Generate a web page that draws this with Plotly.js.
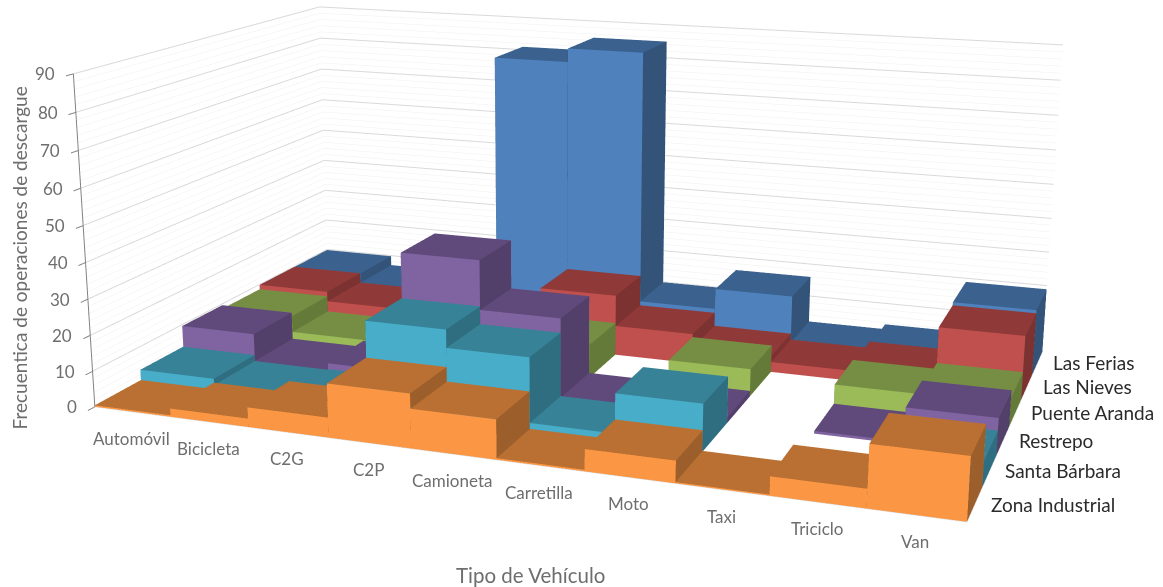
<!DOCTYPE html>
<html><head><meta charset="utf-8">
<script src="https://cdn.plot.ly/plotly-3.0.1.min.js"></script>
<style>html,body{margin:0;padding:0;background:#fff;overflow:hidden}#w{position:relative;width:1163px;height:587px;overflow:hidden}#c{position:absolute;left:-51px;top:-546px;width:1215px;height:1640px}</style>
</head><body><div id="w"><div id="c"></div></div>
<script>
const categories=['Automóvil','Bicicleta','C2G','C2P','Camioneta','Carretilla','Moto','Taxi','Triciclo','Van'];
const seriesNames=['Zona Industrial','Santa Bárbara','Restrepo','Puente Aranda','Las Nieves','Las Ferias'];
const zonaIndustrial=[0.4,2.3,5.4,14.6,10.6,0.4,5.8,0.3,4.9,16];
const santaBarbara=[3.4,1.6,1.8,24.8,19.8,2,12.8,0,0,6.6];
const restrepo=[9.6,1.6,3.5,37.7,23.8,1.5,1.6,0,0.7,9.9];
const puenteAranda=[8.5,3.7,3.7,5,9.6,0,7.8,0,6.1,7.8];
const lasNieves=[9.9,6.9,6.9,5,17.8,8.7,4.7,2.9,4.8,18];
const lasFerias=[9.8,6.8,5,80.9,84.9,9.9,16,2,3.5,18.9];
const zMajor=[0,10,20,30,40,50,60,70,80,90];
const zMinor=[2,4,6,8,12,14,16,18,22,24,26,28,32,34,36,38,42,44,46,48,52,54,56,58,62,64,66,68,72,74,76,78,82,84,86,88];
const seriesColors=[
 {front:'#FB9744',top:'#B97032',side:'#9C5E2B'},
 {front:'#47ADC9',top:'#378297',side:'#2F6E80'},
 {front:'#8064A2',top:'#604A7B',side:'#53406A'},
 {front:'#9BBB59',top:'#768E43',side:'#647A38'},
 {front:'#C0504D',top:'#8F3A38',side:'#7C3230'},
 {front:'#4F81BD',top:'#3B618E',side:'#345378'}];
const allSeries=[zonaIndustrial,santaBarbara,restrepo,puenteAranda,lasNieves,lasFerias];

// The 3D camera has a fixed field of view, so the plot is laid out larger than
// the visible window to get a long focal length, and offset inside a clipping box.
const W=1215,H=1640,left=-51,top_=-546;
const eye=[0.7517,-2.145,0.5536],center=[-0.0418,0,-0.0678],upv=[0.0005,0,1],aspect=[1,0.5965,0.3878];
const toX=x=>(x-left)/W,toY=y=>1-(y-top_)/H;

// One mesh per series: each column is a cuboid whose faces carry their own flat colour.
function cuboidTrace(values,colors,name){
 const x=[],y=[],z=[],i=[],j=[],k=[],fc=[];
 const row=seriesNames.indexOf(name);
 values.forEach((v,c)=>{
  if(!v)return;
  const n=x.length;
  for(const [a,b,d] of [[0,0,0],[1,0,0],[1,1,0],[0,1,0],[0,0,1],[1,0,1],[1,1,1],[0,1,1]]){x.push(c+a);y.push(row+b);z.push(d*v)}
  const quad=(a,b,d,e,col)=>{i.push(n+a,n+a);j.push(n+b,n+d);k.push(n+d,n+e);fc.push(col,col)};
  quad(0,1,5,4,colors.front);quad(1,2,6,5,colors.side);quad(4,5,6,7,colors.top);
  quad(3,2,6,7,colors.front);quad(0,3,7,4,colors.side);quad(0,1,2,3,colors.front);
 });
 return {type:'mesh3d',x,y,z,i,j,k,facecolor:fc,flatshading:true,name,hoverinfo:'skip',showscale:false,
  lighting:{ambient:1,diffuse:0,specular:0,roughness:1,fresnel:0},lightposition:{x:0,y:0,z:1000}};
}
// Horizontal rules running along the left and back walls.
function wallLines(levels,color,width){
 const x=[],y=[],z=[];
 levels.forEach(v=>{x.push(0,0,10,null);y.push(0,6,6,null);z.push(v,v,v,null)});
 return {type:'scatter3d',mode:'lines',x,y,z,line:{color,width},hoverinfo:'skip',showlegend:false};
}
const floorEdge={type:'scatter3d',mode:'lines',hoverinfo:'skip',showlegend:false,line:{color:'#D9D9D9',width:2},x:[0,10,10],y:[0,0,6],z:[0,0,0]};
const axisOff={showgrid:false,zeroline:false,showticklabels:false,showbackground:false,showspikes:false,showline:false,ticks:'',title:{text:''},autorange:false};
const gray='#6E6E6E';
const sceneAnn=[
 ...categories.map((t,c)=>({x:c+.5,y:0,z:0,text:t,showarrow:false,xshift:-1,yshift:-26.5,font:{family:'Lato',size:17,color:gray}})),
 ...seriesNames.map((t,s)=>({x:10,y:s+.5,z:0,text:t,showarrow:false,xanchor:'left',xshift:14,yshift:0,font:{family:'Lato',size:19,color:'#2B2B2B'}})),
 ...zMajor.map(v=>({x:0,y:0,z:v,text:String(v),showarrow:false,xanchor:'right',xshift:-16,font:{family:'Lato',size:17,color:gray}}))
];
const layout={width:W,height:H,margin:{l:0,r:0,t:0,b:0},paper_bgcolor:'#fff',showlegend:false,
 scene:{domain:{x:[0,1],y:[0,1]},aspectmode:'manual',aspectratio:{x:aspect[0],y:aspect[1],z:aspect[2]},
  camera:{eye:{x:eye[0],y:eye[1],z:eye[2]},center:{x:center[0],y:center[1],z:center[2]},up:{x:upv[0],y:upv[1],z:upv[2]},projection:{type:'perspective'}},
  xaxis:{...axisOff,range:[0,10]},yaxis:{...axisOff,range:[0,6]},
  zaxis:{...axisOff,range:[0,90],showline:true,linecolor:'#808080',linewidth:2,ticks:'outside',ticklen:8,tickwidth:2,tickcolor:'#808080',dtick:10,tick0:0,tickmode:'linear'},annotations:sceneAnn},
 annotations:[
  {xref:'paper',yref:'paper',x:toX(18.5),y:toY(258),xanchor:'center',yanchor:'middle',text:'Frecuentica de operaciones de descargue',textangle:-90,showarrow:false,font:{family:'Lato',size:19,color:gray}},
  {xref:'paper',yref:'paper',x:toX(530),y:toY(575),xanchor:'center',yanchor:'middle',text:'Tipo de Vehículo',showarrow:false,font:{family:'Lato',size:20.5,color:gray}}
 ]};
const traces=[wallLines(zMinor,'#F0F0F0',1),wallLines(zMajor,'#D9D9D9',2),floorEdge,
 ...allSeries.map((v,s)=>cuboidTrace(v,seriesColors[s],seriesNames[s]))];
Plotly.newPlot('c',traces,layout,{displayModeBar:false});
</script></body></html>
